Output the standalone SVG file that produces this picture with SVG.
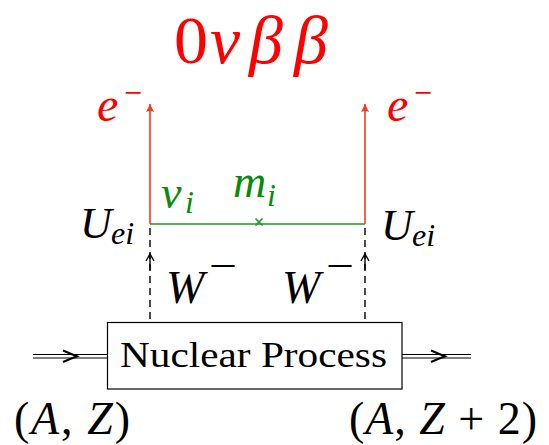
<svg xmlns="http://www.w3.org/2000/svg" width="549" height="445" viewBox="0 0 549 445">
<style>
text{font-family:"Liberation Serif","DejaVu Serif",serif;}
.it{font-style:italic;}
.red{fill:#ff0000;}
.grn{fill:#0a8a0a;}
.blk{fill:#000;}
.rl{stroke:#f43a1c;stroke-width:1.6;fill:none;}
.gl{stroke:#1f9a1f;stroke-width:1.6;fill:none;}
.dl{stroke:#000;stroke-width:1.4;stroke-dasharray:7,5;fill:none;}
.thin{stroke:#000;stroke-width:1;fill:none;}
</style>
<defs>
<marker id="ra" markerWidth="10" markerHeight="10" refX="8" refY="5" orient="auto" markerUnits="userSpaceOnUse">
<path d="M0,1 L8,5 L0,9 Q2,5 0,1 Z" fill="#f43a1c"/>
</marker>
</defs>
<g id="title"><text y="63" font-size="68" class="red"><tspan x="174">0</tspan><tspan x="210" class="it">ν</tspan><tspan x="249" class="it">β</tspan><tspan x="294" class="it">β</tspan></text></g>
<g id="connectors">
<line class="rl" x1="150" y1="224" x2="150" y2="104" marker-end="url(#ra)"/>
<line class="rl" x1="365" y1="224" x2="365" y2="104" marker-end="url(#ra)"/>
<line class="gl" x1="150" y1="224" x2="365" y2="224"/>
<path class="gl" d="M255.5,218.5 L262.5,225.5 M262.5,218.5 L255.5,225.5" stroke-width="2"/>
<line class="dl" x1="150" y1="228" x2="150" y2="322"/>
<line class="dl" x1="365" y1="228" x2="365" y2="322"/>
<path d="M146,261 L150,254 L154,261 M150,254 L150,270" stroke="#000" stroke-width="1.4" fill="none"/>
<path d="M361,261 L365,254 L369,261 M365,254 L365,270" stroke="#000" stroke-width="1.4" fill="none"/>
<line class="thin" x1="33" y1="354.5" x2="107" y2="354.5"/>
<line class="thin" x1="33" y1="358" x2="107" y2="358"/>
<path d="M63,350.5 Q71,354 77,356.2 Q71,358.5 63,362" stroke="#000" stroke-width="2" fill="none"/>
<line class="thin" x1="402" y1="354.5" x2="471" y2="354.5"/>
<line class="thin" x1="402" y1="358" x2="471" y2="358"/>
<path d="M431,350.5 Q439,354 445,356.2 Q439,358.5 431,362" stroke="#000" stroke-width="2" fill="none"/>
</g>
<g id="e-left"><text x="97" y="121" font-size="48" class="red it">e</text><text x="124" y="104" font-size="34" class="red" textLength="18" lengthAdjust="spacingAndGlyphs">−</text></g>
<g id="e-right"><text x="387" y="121" font-size="48" class="red it">e</text><text x="414" y="104" font-size="34" class="red" textLength="18" lengthAdjust="spacingAndGlyphs">−</text></g>
<g id="nu"><text x="161" y="208" font-size="46" class="grn it">ν</text><text x="185" y="213" font-size="32" class="grn it">i</text></g>
<g id="mass"><text x="233" y="197" font-size="46" class="grn it">m</text><text x="267" y="206" font-size="32" class="grn it">i</text></g>
<g id="U-left"><text x="80" y="238" font-size="44" class="blk it">U</text><text x="111" y="244" font-size="32" class="blk it">ei</text></g>
<g id="U-right"><text x="381" y="240" font-size="44" class="blk it">U</text><text x="412" y="246" font-size="32" class="blk it">ei</text></g>
<g id="W-left"><text x="166" y="303" font-size="46" class="blk it">W</text><text x="209" y="279" font-size="40" class="blk" textLength="28" lengthAdjust="spacingAndGlyphs">−</text></g>
<g id="W-right"><text x="282" y="303" font-size="46" class="blk it">W</text><text x="326" y="279" font-size="40" class="blk" textLength="28" lengthAdjust="spacingAndGlyphs">−</text></g>
<g id="nuclear">
<rect x="107.5" y="322.5" width="294.5" height="66.5" fill="#fff" stroke="#000" stroke-width="1.2"/>
<text x="120" y="367" font-size="35" class="blk" textLength="267" lengthAdjust="spacingAndGlyphs">Nuclear Process</text>
</g>
<g id="initial"><text x="14" y="434" font-size="46" class="blk" textLength="116" lengthAdjust="spacing">(<tspan class="it">A</tspan>, <tspan class="it">Z</tspan>)</text></g>
<g id="final"><text x="349" y="434" font-size="46" class="blk" textLength="188" lengthAdjust="spacing">(<tspan class="it">A</tspan>, <tspan class="it">Z</tspan> + 2)</text></g>
</svg>
